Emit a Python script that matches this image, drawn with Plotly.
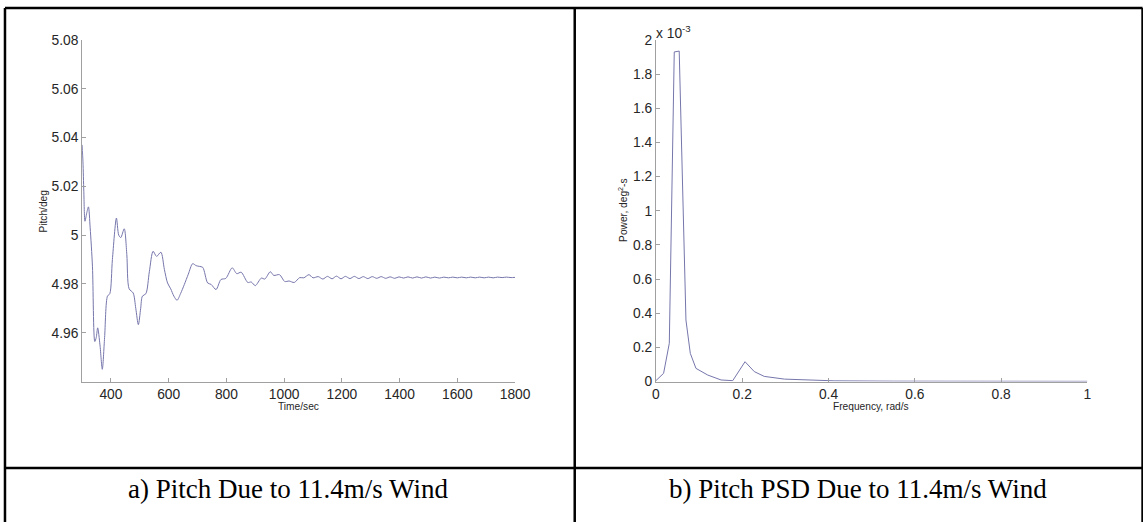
import plotly.graph_objects as go

# ---------------- data ----------------
pitch_time = [300, 303, 306, 310, 316, 322, 328, 336, 344, 349, 354, 362, 370, 378, 388, 396,
              405, 419, 427, 434, 446, 455, 463, 477, 486, 495, 503, 509, 521, 533, 546, 558,
              573, 585, 596, 607, 618, 629, 641, 654, 668, 683, 695, 706, 718, 735, 747, 764,
              781, 798, 820, 836, 851, 874, 886, 900, 921, 933, 952, 964, 984, 1002, 1017, 1035,
              1054, 1068, 1086, 1100, 1118, 1134, 1150, 1166, 1181, 1197, 1212, 1228, 1243, 1259,
              1274, 1290, 1305, 1321, 1336, 1352, 1367, 1383, 1398, 1414, 1429, 1445, 1460, 1476,
              1491, 1507, 1522, 1538, 1553, 1569, 1584, 1600, 1615, 1631, 1646, 1662, 1677, 1693,
              1708, 1724, 1739, 1755, 1770, 1786, 1800]
pitch_deg = [5.037, 5.030, 5.018, 5.0057, 5.009, 5.0116, 5.003, 4.987, 4.9564, 4.958, 4.962, 4.955,
             4.945, 4.958, 4.975, 4.976, 4.990, 5.007, 5.000, 4.999, 5.0026, 4.992, 4.978, 4.9763,
             4.970, 4.9633, 4.970, 4.975, 4.976, 4.985, 4.9934, 4.9913, 4.993, 4.986, 4.9804, 4.978,
             4.975, 4.9733, 4.976, 4.9797, 4.984, 4.9883, 4.9875, 4.9872, 4.9868, 4.9804, 4.9798,
             4.9777, 4.9818, 4.9823, 4.9866, 4.9842, 4.9848, 4.9806, 4.9808, 4.9793, 4.9824, 4.9820,
             4.9850, 4.9835, 4.9838, 4.9810, 4.9812, 4.9806, 4.9826, 4.9825, 4.9838, 4.9825, 4.9830,
             4.9820, 4.9831, 4.9821, 4.9832, 4.9821, 4.9831, 4.9822, 4.9831, 4.9822, 4.9830, 4.9822,
             4.9830, 4.9823, 4.9830, 4.9823, 4.9829, 4.9823, 4.9829, 4.9824, 4.9829, 4.9824, 4.9829,
             4.9824, 4.9829, 4.9824, 4.9828, 4.9824, 4.9828, 4.9825, 4.9828, 4.9825, 4.9828, 4.9825,
             4.9828, 4.9825, 4.9828, 4.9825, 4.9828, 4.9825, 4.9828, 4.9826, 4.9828, 4.9826, 4.9827]

psd_freq = [0.0, 0.0178, 0.031, 0.0425, 0.054, 0.0696, 0.0797, 0.0928, 0.12, 0.151, 0.178,
            0.2065, 0.228, 0.251, 0.298, 0.352, 0.413, 0.55, 0.7, 0.85, 1.0]
psd_power_e3 = [0.005, 0.048, 0.224, 1.93, 1.935, 0.36, 0.165, 0.077, 0.038, 0.009, 0.005,
                0.116, 0.058, 0.03, 0.014, 0.008, 0.004, 0.002, 0.001, 0.001, 0.001]

left_xticks = [400, 600, 800, 1000, 1200, 1400, 1600, 1800]
left_yticks = [4.96, 4.98, 5.0, 5.02, 5.04, 5.06, 5.08]
left_yticktext = ["4.96", "4.98", "5", "5.02", "5.04", "5.06", "5.08"]
right_xticks = [0, 0.2, 0.4, 0.6, 0.8, 1.0]
right_xticktext = ["0", "0.2", "0.4", "0.6", "0.8", "1"]
right_yticks = [0, 0.2, 0.4, 0.6, 0.8, 1.0, 1.2, 1.4, 1.6, 1.8, 2.0]
right_yticktext = ["0", "0.2", "0.4", "0.6", "0.8", "1", "1.2", "1.4", "1.6", "1.8", "2"]

caption_a = "a) Pitch Due to 11.4m/s Wind"
caption_b = "b) Pitch PSD Due to 11.4m/s Wind"

# ---------------- layout helpers ----------------
# The photographed page is offset and scaled slightly; positions below are
# given in photo pixels and converted to figure pixels.
AX, KX = 5.1, 0.9805
AY, KY = 7.76, 522 / 538
W, H = 1162, 531

def fx(x):          # photo px -> figure px
    return (x - AX) / KX
def fy(y):
    return (y - AY) / KY
def PX(x):
    return min(max(fx(x), 0), W) / W
def PY(y):
    return 1 - min(max(fy(y), 0), H) / H

LINE_COLOR = "rgb(118,118,172)"
AXIS_COLOR = "rgb(160,160,160)"
TICK_FONT = dict(family="Liberation Sans, Arial", size=13.8, color="#262626")

fig = go.Figure()
fig.add_trace(go.Scatter(x=pitch_time, y=pitch_deg, mode="lines", xaxis="x", yaxis="y",
                         line=dict(color=LINE_COLOR, width=1, shape="spline", smoothing=0.8),
                         showlegend=False, hoverinfo="skip"))
fig.add_trace(go.Scatter(x=psd_freq, y=psd_power_e3, mode="lines", xaxis="x2", yaxis="y2",
                         line=dict(color=LINE_COLOR, width=1),
                         showlegend=False, hoverinfo="skip"))

axis_common = dict(showline=True, linecolor=AXIS_COLOR, linewidth=1, ticks="inside",
                   ticklen=4, tickcolor=AXIS_COLOR, showgrid=False, zeroline=False,
                   mirror=False, tickfont=TICK_FONT, fixedrange=True)

ydom = [PY(381.7), PY(40.7)]
fig.update_layout(
    width=W, height=H, margin=dict(l=0, r=0, t=0, b=0),
    paper_bgcolor="white", plot_bgcolor="white",
    xaxis=dict(domain=[PX(83), PX(515)], range=[300, 1800], tickvals=left_xticks,
               anchor="y", **axis_common),
    yaxis=dict(domain=ydom, range=[4.94, 5.08], tickvals=left_yticks, ticktext=left_yticktext,
               anchor="x", **axis_common),
    xaxis2=dict(domain=[PX(655.5), PX(1086)], range=[0, 1], tickvals=right_xticks,
                ticktext=right_xticktext, anchor="y2", **axis_common),
    yaxis2=dict(domain=ydom, range=[0, 2], tickvals=right_yticks, ticktext=right_yticktext,
                anchor="x2", **axis_common),
)

small = dict(family="Liberation Sans, Arial", size=10.2, color="#262626")
cap_font = dict(family="Liberation Serif, Times New Roman", size=27, color="black")
ann = [
    dict(text="Time/sec", x=PX(299), y=PY(407), font=small),
    dict(text="Frequency, rad/s", x=PX(870), y=PY(407), font=small),
    dict(text="Pitch/deg", x=PX(45), y=PY(211), font=small, textangle=-90),
    dict(text="Power, deg<sup>2</sup>-s", x=PX(622), y=PY(211), font=small, textangle=-90),
    dict(text="x 10<sup>-3</sup>", x=PX(654), y=PY(33), font=TICK_FONT, xanchor="left"),
    dict(text=caption_a, x=PX(288.5), y=PY(489), font=cap_font),
    dict(text=caption_b, x=PX(857.5), y=PY(489), font=cap_font),
]
for a in ann:
    a.setdefault("xanchor", "center")
    a.setdefault("yanchor", "middle")
    fig.add_annotation(xref="paper", yref="paper", showarrow=False, **a)

# table frame (clipped to the figure area)
frame = [
    (3.5, 5, 1141, 5),          # top
    (3.5, 5, 3.5, 522),         # left
    (1141, 5, 1141, 522),       # right
    (574.5, 5, 574.5, 522),     # middle divider
    (3.5, 468, 1141, 468),      # caption divider
]
for x0, y0, x1, y1 in frame:
    fig.add_shape(type="line", xref="paper", yref="paper",
                  x0=max(PX(x0), 1 / W), y0=min(PY(y0), 1 - 1 / H),
                  x1=max(PX(x1), 1 / W), y1=min(PY(y1), 1 - 1 / H),
                  line=dict(color="black", width=2.5))

fig.write_html("out.html")
